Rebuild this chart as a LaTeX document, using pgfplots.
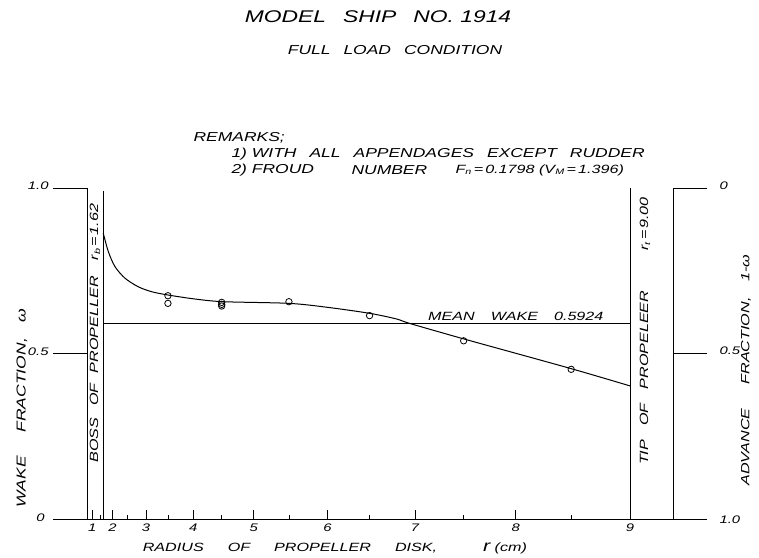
\documentclass[border=0pt]{standalone}
\usepackage{pgfplots}
\pgfplotsset{compat=1.18}
\usepackage{fontspec}
\setmainfont{Liberation Sans}
\newfontfamily\hand{Liberation Sans}[FakeStretch=1.35]
\newcommand{\hw}[1]{\hand\itshape\fontsize{#1}{#1}\selectfont}
\begin{document}
\begin{tikzpicture}
\path (0,0) rectangle (759bp,558bp);
\begin{axis}[
  at={(53bp,38.5bp)}, anchor=south west,
  scale only axis, width=654bp, height=331.5bp,
  xmin=-4.85, xmax=92.46, ymin=0, ymax=1,
  axis x line=bottom, axis y line=none,
  x axis line style={-, line width=0.8bp},
  clip=false,
  xtick={1,4,9,16,25,36,49,64,81},
  xticklabels={1,2,3,4,5,6,7,8,9},
  minor xtick={2.25,6.25,12.25,20.25,30.25,42.25,56.25,72.25},
  tick align=inside,
  major tick length=9bp, minor tick length=4bp,
  tick style={black, line width=0.6bp},
  xticklabel style={font=\hw{11}, yshift=-1bp},
]
% frame lines
\draw[line width=0.8bp] (axis cs:-4.85,1) -- (axis cs:0.21,1) -- (axis cs:0.21,0);
\draw[line width=0.8bp] (axis cs:-4.85,0.5) -- (axis cs:0.21,0.5);
\draw[line width=0.8bp] (axis cs:2.6244,0.99) -- (axis cs:2.6244,0);
\draw[line width=0.8bp] (axis cs:81,1) -- (axis cs:81,0);
\draw[line width=0.8bp] (axis cs:92.46,1) -- (axis cs:87.4,1) -- (axis cs:87.4,0);
\draw[line width=0.8bp] (axis cs:92.46,0.5) -- (axis cs:87.4,0.5);
% mean wake
\draw[line width=0.8bp] (axis cs:2.6244,0.5924) -- (axis cs:81,0.5924);
% wake curve (r in cm, plotted against r^2)
\addplot[no marks, smooth, black, line width=1bp, x filter/.expression={x*x}] coordinates {
(1.62,0.864) (1.84,0.808) (2.09,0.763) (2.42,0.728) (2.80,0.702) (3.14,0.687)
(3.51,0.677) (4.04,0.665) (4.53,0.657) (5.50,0.652) (6.00,0.640) (6.50,0.622)
(6.80,0.605) (6.95,0.591) (7.51,0.544) (8.49,0.456) (9.00,0.403)};
% measured points
\addplot[only marks, mark=o, mark size=3.2bp, black, line width=0.8bp, x filter/.expression={x*x}] coordinates {
(3.5,0.675) (3.5,0.652) (4.5,0.655) (4.5,0.649) (4.5,0.644) (5.5,0.657)
(6.5,0.615) (7.5,0.539) (8.5,0.453)};
\end{axis}
% texts
\node[font=\hw{17}] at (378bp,541bp) {MODEL\quad SHIP\quad NO. 1914};
\node[font=\hw{13}] at (395bp,508bp) {FULL\quad LOAD\quad CONDITION};
\node[font=\hw{13}, anchor=west] at (190bp,420bp) {REMARKS;};
\node[font=\hw{13}, anchor=west] at (228bp,404bp) {1) WITH\quad ALL\quad APPENDAGES\quad EXCEPT\quad RUDDER};
\node[font=\hw{13}, anchor=west] at (228bp,388bp) {2) FROUD};
\node[font=\hw{13}, anchor=west] at (348bp,388bp) {NUMBER};
\node[font=\hw{12}, anchor=west] at (452bp,388bp) {F\textsubscript{n}\,=\,0.1798 (V\textsubscript{M}\,=\,1.396)};
\node[font=\hw{11}, anchor=east] at (52bp,372bp) {1.0};
\node[font=\hw{11}, anchor=east] at (52bp,206bp) {0.5};
\node[font=\hw{11}, anchor=east] at (48bp,40bp) {0};
\node[font=\hw{11}, anchor=west] at (716bp,372bp) {0};
\node[font=\hw{11}, anchor=west] at (716bp,207bp) {0.5};
\node[font=\hw{11}, anchor=west] at (716bp,38bp) {1.0};
\node[font=\hw{13}, rotate=90] at (22bp,150bp) {WAKE\hspace{24bp}FRACTION,\hspace{16bp}ω};
\node[font=\hw{12}, rotate=90] at (746bp,188bp) {ADVANCE\hspace{24bp}FRACTION,\hspace{16bp}1-ω};
\node[font=\hw{12}, rotate=90] at (95bp,225bp) {BOSS\hspace{12bp}OF\hspace{10bp}PROPELLER\hspace{16bp}r\textsubscript{b}\,=\,1.62};
\node[font=\hw{12}, rotate=90] at (645bp,227bp) {TIP\hspace{14bp}OF\hspace{14bp}PROPELEER\hspace{40bp}r\textsubscript{t}\,=\,9.00};
\node[font=\hw{12}, anchor=south west, inner sep=1bp] at (427bp,236bp) {MEAN\hspace{16bp}WAKE\hspace{16bp}0.5924};
\node[font=\hw{12}] at (290bp,10bp) {RADIUS\hspace{24bp}OF\hspace{24bp}PROPELLER\hspace{24bp}DISK,};
\node[font=\hw{12}] at (505bp,10bp) {{\hw{16}r} (cm)};
\end{tikzpicture}
\end{document}
